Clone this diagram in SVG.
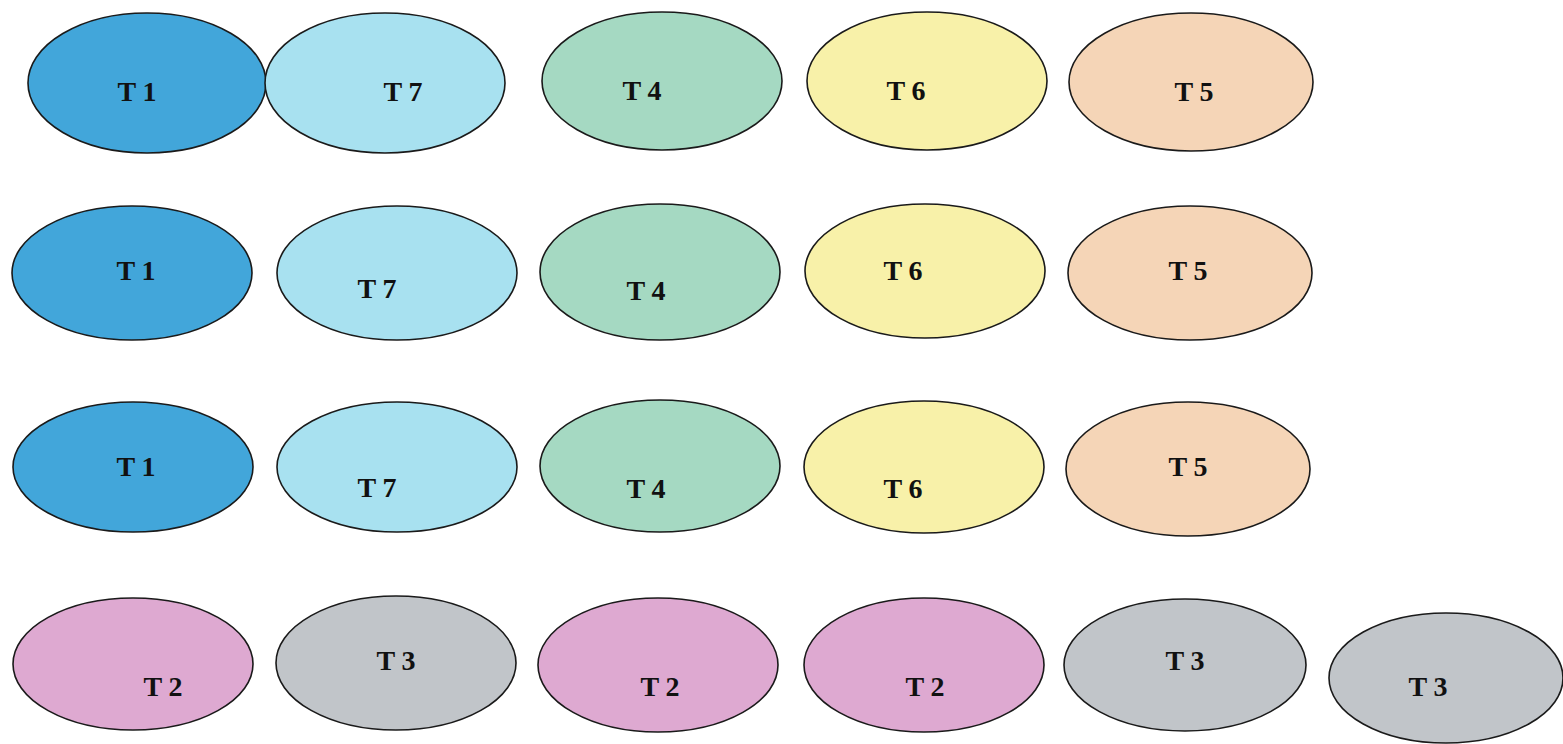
<svg xmlns="http://www.w3.org/2000/svg" width="1563" height="744" viewBox="0 0 1563 744">
<style>
ellipse{stroke:#1a1a1a;stroke-width:1.6}
text{font-family:"Liberation Serif","Times New Roman",serif;font-weight:bold;font-size:28px;fill:#111;text-anchor:middle}
.c1{fill:#42a6da}.c7{fill:#a8e1f0}.c4{fill:#a5d9c2}.c6{fill:#f8f1a9}.c5{fill:#f5d5b7}.c2{fill:#dea9d1}.c3{fill:#c1c5c9}
</style>
<rect width="1563" height="744" fill="#fff"/>
<g id="r1-t1"><ellipse class="c1" cx="147" cy="83" rx="119" ry="70"/><text x="137" y="101">T 1</text></g>
<g id="r1-t7"><ellipse class="c7" cx="385" cy="83" rx="120" ry="70"/><text x="403" y="101">T 7</text></g>
<g id="r1-t4"><ellipse class="c4" cx="662" cy="81" rx="120" ry="69"/><text x="642" y="100">T 4</text></g>
<g id="r1-t6"><ellipse class="c6" cx="927" cy="81" rx="120" ry="69"/><text x="906" y="100">T 6</text></g>
<g id="r1-t5"><ellipse class="c5" cx="1191" cy="82" rx="122" ry="69"/><text x="1194" y="101">T 5</text></g>

<g id="r2-t1"><ellipse class="c1" cx="132" cy="273" rx="120" ry="67"/><text x="136" y="280">T 1</text></g>
<g id="r2-t7"><ellipse class="c7" cx="397" cy="273" rx="120" ry="67"/><text x="377" y="298">T 7</text></g>
<g id="r2-t4"><ellipse class="c4" cx="660" cy="272" rx="120" ry="68"/><text x="646" y="300">T 4</text></g>
<g id="r2-t6"><ellipse class="c6" cx="925" cy="271" rx="120" ry="67"/><text x="903" y="280">T 6</text></g>
<g id="r2-t5"><ellipse class="c5" cx="1190" cy="273" rx="122" ry="67"/><text x="1188" y="280">T 5</text></g>

<g id="r3-t1"><ellipse class="c1" cx="133" cy="467" rx="120" ry="65"/><text x="136" y="476">T 1</text></g>
<g id="r3-t7"><ellipse class="c7" cx="397" cy="467" rx="120" ry="65"/><text x="377" y="497">T 7</text></g>
<g id="r3-t4"><ellipse class="c4" cx="660" cy="466" rx="120" ry="66"/><text x="646" y="498">T 4</text></g>
<g id="r3-t6"><ellipse class="c6" cx="924" cy="467" rx="120" ry="66"/><text x="903" y="498">T 6</text></g>
<g id="r3-t5"><ellipse class="c5" cx="1188" cy="469" rx="122" ry="67"/><text x="1188" y="476">T 5</text></g>

<g id="r4-t2a"><ellipse class="c2" cx="133" cy="664" rx="120" ry="66"/><text x="163" y="696">T 2</text></g>
<g id="r4-t3a"><ellipse class="c3" cx="396" cy="663" rx="120" ry="67"/><text x="396" y="670">T 3</text></g>
<g id="r4-t2b"><ellipse class="c2" cx="658" cy="665" rx="120" ry="67"/><text x="660" y="696">T 2</text></g>
<g id="r4-t2c"><ellipse class="c2" cx="924" cy="665" rx="120" ry="67"/><text x="925" y="696">T 2</text></g>
<g id="r4-t3b"><ellipse class="c3" cx="1185" cy="665" rx="121" ry="66"/><text x="1185" y="670">T 3</text></g>
<g id="r4-t3c"><ellipse class="c3" cx="1446" cy="678" rx="117" ry="65"/><text x="1428" y="696">T 3</text></g>
<g id="connectors"/>
</svg>
